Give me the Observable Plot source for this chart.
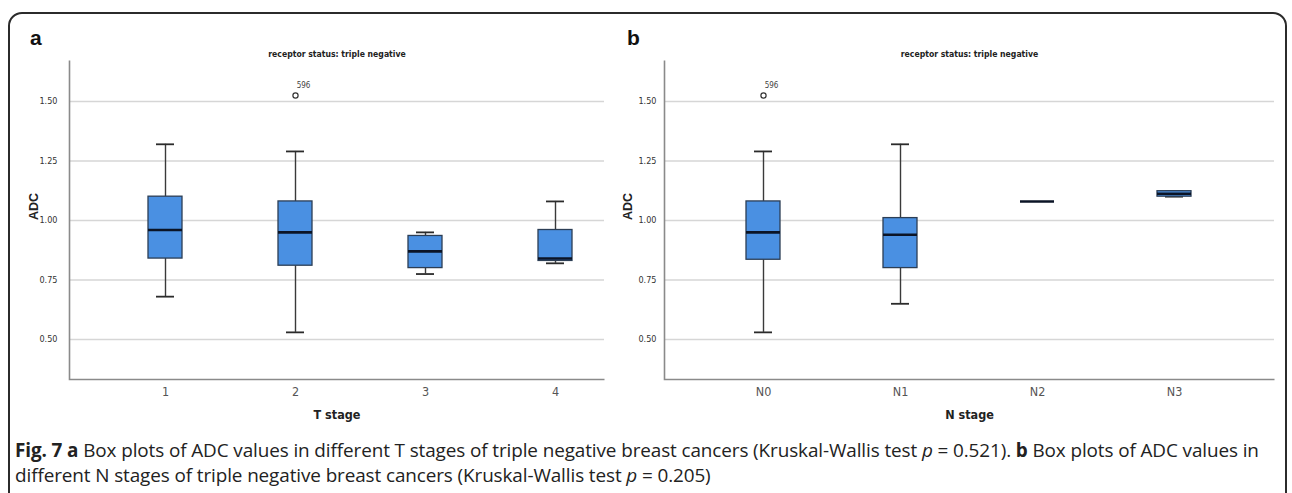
<!DOCTYPE html>
<html>
<head>
<meta charset="utf-8">
<script src="https://cdn.jsdelivr.net/npm/d3@7"></script>
<script src="https://cdn.jsdelivr.net/npm/@observablehq/plot@0.6"></script>
<style>
  html, body { margin: 0; padding: 0; background: #fff; width: 1292px; height: 493px; overflow: hidden; }
  #wrap { position: relative; width: 1292px; height: 493px; }
  #border { position: absolute; left: 8px; top: 12px; width: 1279px; height: 520px; border: 2px solid #2b2b2b; border-radius: 14px; box-sizing: border-box; }
  .panel { position: absolute; top: 0; }
  .lab { position: absolute; font-family: Arial, "Liberation Sans", sans-serif; font-weight: bold; font-size: 21px; color: #111; }
  #caption { position: absolute; left: 15px; top: 438px; width: 1272px; font-family: "Open Sans", "Noto Sans", sans-serif; font-size: 18.9px; line-height: 25px; color: #222; letter-spacing: -0.1px; word-spacing: 0px; white-space: normal; }
  #caption b { font-weight: 700; }
</style>
</head>
<body>
<div id="wrap">
  <div id="panelA" class="panel" style="left:0px;"></div>
  <div id="panelB" class="panel" style="left:620px;"></div>
  <div id="border"></div>
  <div class="lab" style="left:30px; top:26px;">a</div>
  <div class="lab" style="left:627px; top:26px;">b</div>
  <div id="caption"><b>Fig. 7 a</b> Box plots of ADC values in different T stages of triple negative breast cancers (Kruskal-Wallis test <i>p</i> = 0.521). <b>b</b> Box plots of ADC values in<br>different N stages of triple negative breast cancers (Kruskal-Wallis test <i>p</i> = 0.205)</div>
</div>
<script>
// ---- data ----
const tStages = ["1", "2", "3", "4"];
const tLow    = [0.68, 0.53, 0.775, 0.82];
const tQ1     = [0.84, 0.81, 0.80, 0.83];
const tMedian = [0.96, 0.95, 0.87, 0.84];
const tQ3     = [1.10, 1.08, 0.935, 0.96];
const tHigh   = [1.32, 1.29, 0.95, 1.08];
const tOutliers = [{stage: "2", value: 1.525, id: "596"}];

const nStages = ["N0", "N1", "N2", "N3"];
const nLow    = [0.53, 0.65, 1.08, 1.10];
const nQ1     = [0.835, 0.80, 1.08, 1.10];
const nMedian = [0.95, 0.94, 1.08, 1.112];
const nQ3     = [1.08, 1.01, 1.08, 1.123];
const nHigh   = [1.29, 1.32, 1.08, 1.123];
const nOutliers = [{stage: "N0", value: 1.525, id: "596"}];

const yTicks = [0.50, 0.75, 1.00, 1.25, 1.50];
const yDomain = [0.332, 1.672];
const panelTitle = "receptor status: triple negative";

function rows(stages, low, q1, med, q3, high) {
  return stages.map((s, i) => ({stage: s, low: low[i], q1: q1[i], med: med[i], q3: q3[i], high: high[i]}));
}

function boxPanel({stages, data, outliers, xLabel, width, marginLeft, marginRight, xRange, paddingInner, tickPad, yLabelDx}) {
  const height = 430, marginTop = 60, marginBottom = 51;
  const fw = width - marginLeft - marginRight;
  const fh = height - marginTop - marginBottom;
  const narrow = "'Liberation Sans Narrow', 'DejaVu Sans Condensed', 'Arial Narrow', Arial, sans-serif";
  const hasWhisker = data.filter(d => d.high > d.low);
  return Plot.plot({
    width, height, marginLeft, marginRight, marginTop, marginBottom,
    style: {background: "transparent", overflow: "visible"},
    x: {type: "band", domain: stages, range: xRange, paddingInner, paddingOuter: 0, align: 0.5, label: null},
    y: {domain: yDomain, label: null},
    marks: [
      Plot.ruleY(yTicks, {stroke: "#d6d6d6", strokeWidth: 1.6}),
      Plot.frame({stroke: "#8a8a8a", strokeWidth: 1.6, strokeDasharray: `0 ${fw + fh} ${fw + fh}`}),
      Plot.axisY(yTicks, {tickSize: 0, tickPadding: tickPad, tickFormat: d3.format(".2f"), fontSize: 9, fontFamily: narrow, fill: "#333", label: null}),
      Plot.axisX({tickSize: 0, tickPadding: 8, fontSize: 12.5, fontFamily: narrow, fill: "#555", label: null}),
      Plot.text([xLabel], {frameAnchor: "bottom", text: d => d, dy: 39, fontSize: 12.5, fontWeight: "bold", fontFamily: narrow, fill: "#222"}),
      Plot.text(["ADC"], {frameAnchor: "left", text: d => d, dx: yLabelDx, rotate: -90, fontSize: 12.5, fontWeight: "bold", fontFamily: "Arial, 'Liberation Sans', sans-serif", fill: "#222"}),
      Plot.text([panelTitle], {frameAnchor: "top", text: d => d, dy: -10, fontSize: 8.6, fontWeight: "bold", fontFamily: narrow, fill: "#222"}),
      // whiskers
      Plot.ruleX(hasWhisker, {x: "stage", y1: "low", y2: "q1", stroke: "#3a3a3a", strokeWidth: 1.4}),
      Plot.ruleX(hasWhisker, {x: "stage", y1: "q3", y2: "high", stroke: "#3a3a3a", strokeWidth: 1.4}),
      Plot.tickY(hasWhisker, {x: "stage", y: "low", stroke: "#2b2b2b", strokeWidth: 1.8, insetLeft: 8, insetRight: 8}),
      Plot.tickY(hasWhisker, {x: "stage", y: "high", stroke: "#2b2b2b", strokeWidth: 1.8, insetLeft: 8, insetRight: 8}),
      // boxes
      Plot.barY(data, {x: "stage", y1: "q1", y2: "q3", fill: "#4a90e2", stroke: "#2c3e55", strokeWidth: 1.3}),
      Plot.tickY(data, {x: "stage", y: "med", stroke: "#0b1426", strokeWidth: 2.6}),
      // outliers
      Plot.dot(outliers, {x: "stage", y: "value", r: 2.6, stroke: "#333", strokeWidth: 1.2, fill: "#fff"}),
      Plot.text(outliers, {x: "stage", y: "value", text: "id", dx: 8, dy: -10, fontSize: 8, fontFamily: narrow, fill: "#444"})
    ]
  });
}

document.getElementById("panelA").appendChild(boxPanel({
  stages: tStages,
  data: rows(tStages, tLow, tQ1, tMedian, tQ3, tHigh),
  outliers: tOutliers,
  xLabel: "T stage",
  width: 620, marginLeft: 69, marginRight: 16,
  xRange: [147, 572], paddingInner: 1 - 34 / 130.4,
  tickPad: 12, yLabelDx: -36
}));

document.getElementById("panelB").appendChild(boxPanel({
  stages: nStages,
  data: rows(nStages, nLow, nQ1, nMedian, nQ3, nHigh),
  outliers: nOutliers,
  xLabel: "N stage",
  width: 672, marginLeft: 44, marginRight: 18,
  xRange: [126, 571], paddingInner: 1 - 34 / 137.3,
  tickPad: 8, yLabelDx: -37
}));
</script>
</body>
</html>
